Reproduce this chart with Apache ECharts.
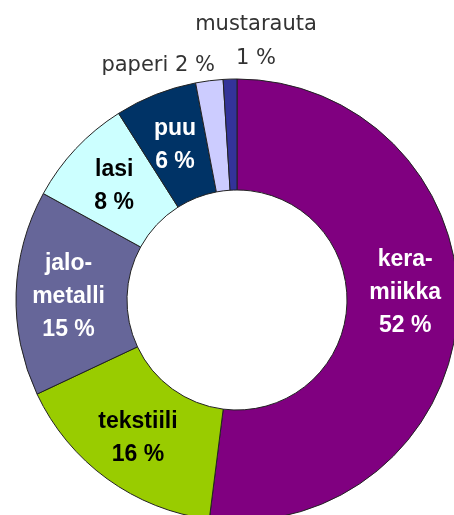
<!DOCTYPE html>
<html>
<head>
<meta charset="utf-8">
<script src="https://cdn.jsdelivr.net/npm/echarts@6/dist/echarts.min.js"></script>
<style>
    html, body { margin: 0; padding: 0; background: #fff; }
    #container { width: 454px; height: 515px; }
</style>
</head>
<body>
<div id="container"></div>
<script>
    // materiaalit, myötäpäivään ylhäältä
    var names  = ['keramiikka', 'tekstiili', 'jalometalli', 'lasi', 'puu', 'paperi', 'mustarauta'];
    var values = [52, 16, 15, 8, 6, 2, 1];
    // tavutetut nimet kuten kuvassa
    var labelNames = ['kera-\nmiikka', 'tekstiili', 'jalo-\nmetalli', 'lasi', 'puu', 'paperi', 'mustarauta'];
    var colors = ['#800080', '#99cc00', '#666699', '#ccffff', '#003366', '#ccccff', '#333399'];
    var textColors = ['#ffffff', '#000000', '#ffffff', '#000000', '#ffffff', '#333333', '#333333'];

    var data = [];
    for (var i = 0; i < names.length; i++) {
        var inside = i < 5;
        var sep = (i == 5) ? ' ' : '\n';
        data.push({
            name: names[i],
            value: values[i],
            itemStyle: { color: colors[i] },
            label: {
                show: true,
                position: inside ? 'inside' : 'outside',
                formatter: labelNames[i] + sep + values[i] + ' %',
                color: textColors[i],
                fontFamily: inside ? 'Liberation Sans' : 'DejaVu Sans',
                fontWeight: inside ? 'bold' : 'normal',
                fontSize: inside ? 23 : 21,
                lineHeight: inside ? 33 : 34,
                // keramiikan teksti on kuvassa hieman ylempänä
                offset: i == 0 ? [0, -18] : [0, 2]
            },
            labelLine: { show: false }
        });
    }

    var myChart = echarts.init(document.getElementById('container'));
    var option = {
        animation: false,
        textStyle: { fontFamily: 'Liberation Sans, Arial, sans-serif' },
        series: [{
            type: 'pie',
            center: [237, 300],
            radius: [110, 221],
            startAngle: 90,
            clockwise: true,
            avoidLabelOverlap: false,
            itemStyle: { borderColor: '#222', borderWidth: 1 },
            labelLayout: function (params) {
                if (params.dataIndex == 5) {
                    return { x: 215, y: 66, align: 'right', verticalAlign: 'middle' };
                }
                if (params.dataIndex == 6) {
                    return { x: 256, y: 42, align: 'center', verticalAlign: 'middle' };
                }
            },
            data: data
        }]
    };
    myChart.setOption(option);
</script>
</body>
</html>
